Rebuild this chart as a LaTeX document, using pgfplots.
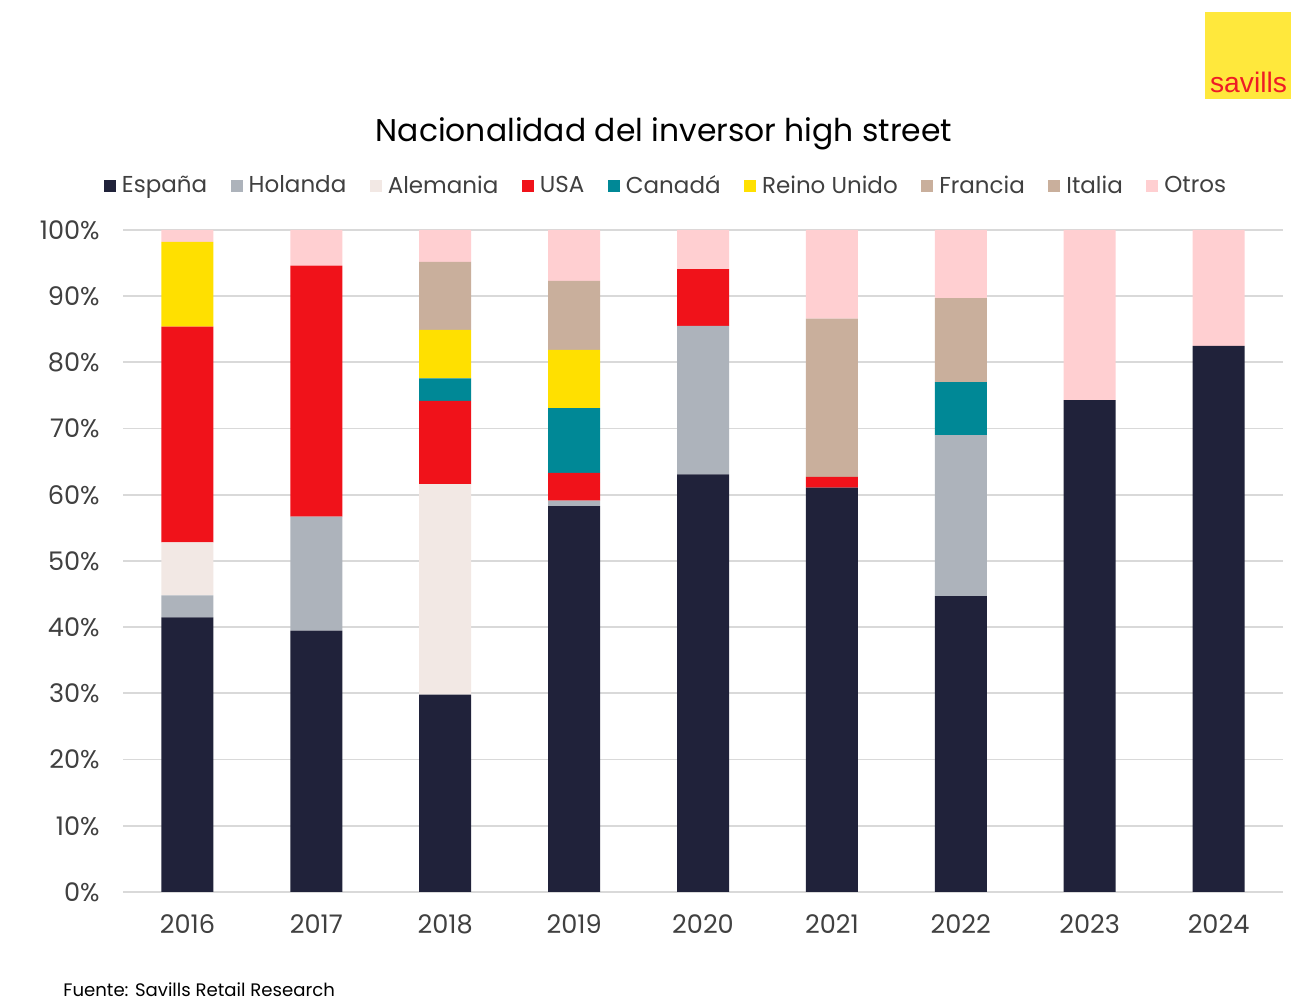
\documentclass[border=0pt]{standalone}
\usepackage{pgfplots}
\pgfplotsset{compat=1.18}
\usepackage{fontspec}
\setmainfont{Poppins}
\newfontfamily\logofont{Liberation Sans}
\definecolor{cEsp}{HTML}{20223A}
\definecolor{cHol}{HTML}{ADB3BB}
\definecolor{cAle}{HTML}{F2E8E4}
\definecolor{cUSA}{HTML}{F0121A}
\definecolor{cCan}{HTML}{008896}
\definecolor{cRU}{HTML}{FFE000}
\definecolor{cFra}{HTML}{C9AF9C}
\definecolor{cIta}{HTML}{C9AF9C}
\definecolor{cOtr}{HTML}{FFCFD1}
\definecolor{gridgray}{HTML}{D9D9D9}
\definecolor{txt}{HTML}{404040}
\definecolor{logoy}{HTML}{FFE83C}
\definecolor{logor}{HTML}{EE1C25}
\begin{document}
\begin{tikzpicture}[x=1pt,y=1pt]
\useasboundingbox (0,0) rectangle (657.5,502.5);
\fill[white] (0,0) rectangle (657.5,502.5);
\begin{axis}[
  at={(61.5pt,56.5pt)}, anchor=south west,
  scale only axis, width=580pt, height=331pt,
  ybar stacked, bar width=26pt,
  xmin=-0.5, xmax=8.5, ymin=0, ymax=100,
  xtick={0,1,2,3,4,5,6,7,8},
  xticklabels={2016,2017,2018,2019,2020,2021,2022,2023,2024},
  ytick={0,10,20,30,40,50,60,70,80,90,100},
  yticklabels={0\%,10\%,20\%,30\%,40\%,50\%,60\%,70\%,80\%,90\%,100\%},
  axis line style={draw=none},
  major tick length=0pt,
  ymajorgrids, grid style={color=gridgray, line width=0.9pt},
  tick label style={font=\fontsize{12.8}{14}\selectfont, text=txt},
  yticklabel style={anchor=east, inner sep=0pt, xshift=-11.5pt},
  xticklabel style={anchor=center, inner sep=0pt, yshift=-16pt},
  legend image code/.code={\fill[#1] (0pt,-3pt) rectangle (6pt,3pt); \path (7pt,0pt);},
  legend columns=-1,
  legend style={draw=none, fill=none, at={(0.469,1.0665)}, anchor=center,
    font=\fontsize{11.5}{13}\selectfont, text=txt,
    /tikz/every even column/.append style={column sep=9.75pt},
    inner sep=0pt},
  legend cell align=left,
]
\addplot[fill=cEsp, draw=none] coordinates {(0,41.5) (1,39.5) (2,29.8) (3,58.3) (4,63.1) (5,61.1) (6,44.7) (7,74.3) (8,82.5)};
\addplot[fill=cHol, draw=none] coordinates {(0,3.3) (1,17.2) (2,0) (3,0.8) (4,22.4) (5,0) (6,24.3) (7,0) (8,0)};
\addplot[fill=cAle, draw=none] coordinates {(0,8.0) (1,0) (2,31.8) (3,0) (4,0) (5,0) (6,0) (7,0) (8,0)};
\addplot[fill=cUSA, draw=none] coordinates {(0,32.6) (1,37.9) (2,12.6) (3,4.2) (4,8.6) (5,1.6) (6,0) (7,0) (8,0)};
\addplot[fill=cCan, draw=none] coordinates {(0,0) (1,0) (2,3.4) (3,9.8) (4,0) (5,0) (6,8.0) (7,0) (8,0)};
\addplot[fill=cRU, draw=none] coordinates {(0,12.8) (1,0) (2,7.3) (3,8.8) (4,0) (5,0) (6,0) (7,0) (8,0)};
\addplot[fill=cFra, draw=none] coordinates {(0,0) (1,0) (2,10.3) (3,10.4) (4,0) (5,23.9) (6,12.7) (7,0) (8,0)};
\addplot[fill=cIta, draw=none] coordinates {(0,0) (1,0) (2,0) (3,0) (4,0) (5,0) (6,0) (7,0) (8,0)};
\addplot[fill=cOtr, draw=none] coordinates {(0,1.8) (1,5.4) (2,4.8) (3,7.7) (4,5.9) (5,13.4) (6,10.3) (7,25.7) (8,17.5)};
\legend{España, Holanda, Alemania, USA, Canadá, Reino Unido, Francia, Italia, Otros}
\end{axis}
\node[font=\fontsize{15.7}{18}\selectfont, text=black] at (332,435.5) {Nacionalidad del inversor high street};
\node[anchor=base west, inner sep=0pt, font=\fontsize{9.05}{11}\selectfont, text=black] at (31.5,4.5) {Fuente: Savills Retail Research};
\fill[logoy] (602.5,453) rectangle (645.5,496.5);
\node[anchor=base, inner sep=0pt, font=\logofont\fontsize{14.1}{16}\selectfont, text=logor] at (624.25,456.2) {savills};
\end{tikzpicture}
\end{document}
